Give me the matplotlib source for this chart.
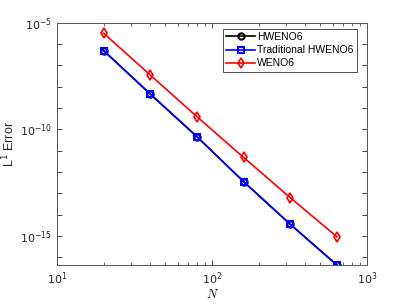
import matplotlib
matplotlib.use("Agg")
import matplotlib.pyplot as plt
import numpy as np
from matplotlib.ticker import LogLocator, NullFormatter

N = [20, 40, 80, 160, 320, 640]
hweno6 = [4.9e-7, 4.5e-9, 4.5e-11, 3.5e-13, 3.5e-15, 4.3e-17]
trad_hweno6 = [4.9e-7, 4.5e-9, 4.5e-11, 3.5e-13, 3.5e-15, 4.3e-17]
weno6 = [3.2e-6, 3.5e-8, 3.9e-10, 4.8e-12, 6.2e-14, 9.1e-16]

plt.rcParams['font.family'] = ['Liberation Sans', 'DejaVu Sans']
fig = plt.figure(figsize=(4.05, 3.04), dpi=100)
ax = fig.add_axes([0.141, 0.128, 0.765, 0.797])

ax.loglog(N, hweno6, '-o', color='black', lw=1.2, ms=4.5, mfc='none', mew=1.5, label='HWENO6')
ax.loglog(N, trad_hweno6, '-s', color='blue', lw=1.2, ms=4.5, mfc='none', mew=1.5, label='Traditional HWENO6')
ax.loglog(N, weno6, '-d', color='red', lw=1.2, ms=5, mfc='none', mew=1.2, label='WENO6')

ax.set_xlim(10, 1000)
ax.set_ylim(10**-16.37, 1e-5)

ax.set_xticks([10, 100, 1000])
ax.set_xticklabels([r'$10^{1}$', r'$10^{2}$', r'$10^{3}$'])
ax.xaxis.set_minor_locator(LogLocator(base=10, subs=np.arange(2, 10), numticks=20))
ax.xaxis.set_minor_formatter(NullFormatter())

yt = [10.0**k for k in range(-16, -4)]
ax.set_yticks(yt)
ax.set_yticklabels([r'$10^{%d}$' % k if k % 5 == 0 else '' for k in range(-16, -4)])
ax.yaxis.set_minor_locator(plt.NullLocator())

ax.tick_params(which='both', direction='in', top=True, right=True, colors='#262626',
               labelsize=8, labelcolor='#262626')
ax.tick_params(which='major', length=3.5, width=0.6)
ax.tick_params(which='minor', length=2, width=0.5)
for s in ax.spines.values():
    s.set_color('#555555')
    s.set_linewidth(0.7)

ax.set_xlabel(r'$N$', fontsize=9, math_fontfamily='cm', labelpad=1)
ax.set_ylabel(r'L$^1$ Error', fontsize=9, color='#262626', labelpad=2)

leg = ax.legend(loc='upper left', bbox_to_anchor=(223/405, 1 - 29/304), bbox_transform=fig.transFigure,
                fontsize=7.5, frameon=True, fancybox=False,
                edgecolor='black', borderpad=0.3, labelspacing=0.3, handlelength=2.8,
                handletextpad=0.2, borderaxespad=0)
leg.get_frame().set_linewidth(0.6)

fig.savefig('out.png', dpi=100)
